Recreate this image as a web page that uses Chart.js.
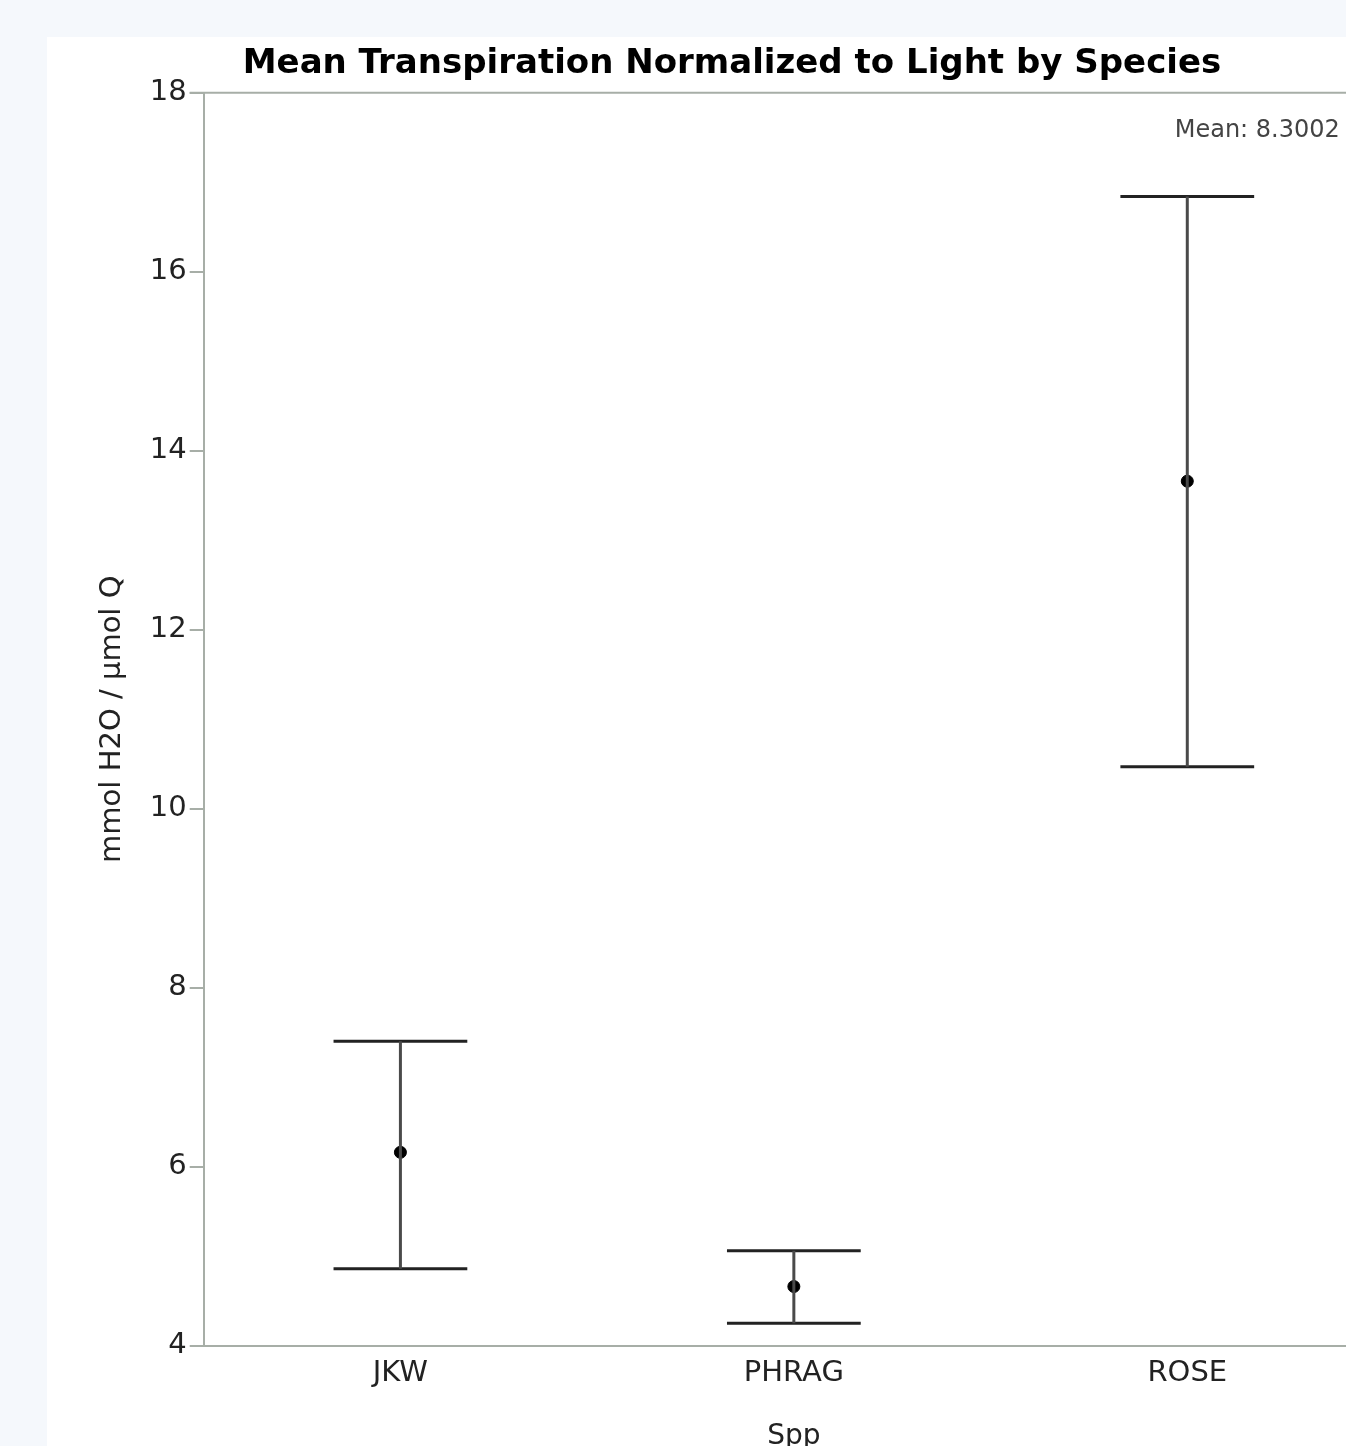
<!DOCTYPE html>
<html>
<head>
<meta charset="utf-8">
<script src="https://cdn.jsdelivr.net/npm/chart.js@4.4.1/dist/chart.umd.min.js"></script>
<style>
html, body { margin: 0; padding: 0; background: #f5f8fc; overflow: hidden; width: 1346px; height: 1446px; }
#wrap { position: absolute; left: 47px; top: 37px; background: #fff; }
</style>
</head>
<body>
<div id="wrap"><canvas id="myChart" width="1370" height="1430"></canvas></div>
<script>
// species on the x axis
var species = ["JKW", "PHRAG", "ROSE"];
// mean and error bar ends (mmol H2O / umol Q)
var meanValues = [6.16, 4.66, 13.66];
var upperValues = [7.40, 5.06, 16.84];
var lowerValues = [4.86, 4.25, 10.47];
var yTicks = [4, 6, 8, 10, 12, 14, 16, 18];
var grandMean = "8.3002";
var capHalf = 0.17;

var fontFam = "'DejaVu Sans', sans-serif";

// whisker stems and caps, segments split by nulls
var stems = [];
var caps = [];
for (var i = 0; i < species.length; i++) {
    stems.push({x: i, y: lowerValues[i]});
    stems.push({x: i, y: upperValues[i]});
    stems.push({x: i, y: null});
    caps.push({x: i - capHalf, y: upperValues[i]});
    caps.push({x: i + capHalf, y: upperValues[i]});
    caps.push({x: i, y: null});
    caps.push({x: i - capHalf, y: lowerValues[i]});
    caps.push({x: i + capHalf, y: lowerValues[i]});
    caps.push({x: i, y: null});
}
var means = species.map(function(s, i) { return {x: i, y: meanValues[i]}; });

// top frame line + mean text
var framePlugin = {
    id: "frame",
    afterDraw: function(chart) {
        var ctx = chart.ctx;
        var a = chart.chartArea;
        ctx.save();
        ctx.strokeStyle = "#a7aea7";
        ctx.lineWidth = 2;
        ctx.beginPath();
        ctx.moveTo(a.left - 14, a.top);
        ctx.lineTo(a.right, a.top);
        ctx.stroke();
        ctx.fillStyle = "#444";
        ctx.font = "24px " + fontFam;
        ctx.textAlign = "left";
        ctx.textBaseline = "middle";
        ctx.fillText("Mean: " + grandMean, a.left + 971, a.top + 38);
        ctx.restore();
    }
};

var ctx = document.getElementById("myChart").getContext("2d");
var myChart = new Chart(ctx, {
    type: "scatter",
    data: {
        datasets: [
            {
                data: stems,
                showLine: true,
                spanGaps: false,
                borderColor: "#4a4a4a",
                borderWidth: 3,
                pointRadius: 0
            },
            {
                data: caps,
                showLine: true,
                spanGaps: false,
                borderColor: "#222",
                borderWidth: 3,
                pointRadius: 0
            },
            {
                data: means,
                backgroundColor: "#000",
                borderColor: "#000",
                pointRadius: 6,
                pointHoverRadius: 6
            }
        ]
    },
    options: {
        responsive: false,
        animation: false,
        layout: { padding: { left: 33, right: 33, top: 0, bottom: 13 } },
        plugins: {
            legend: { display: false },
            tooltip: { enabled: false },
            title: {
                display: true,
                text: "Mean Transpiration Normalized to Light by Species",
                color: "#000",
                font: { family: fontFam, size: 34, weight: "bold" },
                padding: { top: 7, bottom: 8 }
            }
        },
        scales: {
            x: {
                type: "linear",
                min: -0.5,
                max: 2.5,
                afterBuildTicks: function(axis) {
                    axis.ticks = species.map(function(s, i) { return {value: i}; });
                },
                ticks: {
                    color: "#222",
                    font: { family: fontFam, size: 29 },
                    padding: 10,
                    callback: function(v) { return species[v]; }
                },
                grid: { display: true, drawOnChartArea: false, drawTicks: false },
                border: { display: true, color: "#a7aea7", width: 2 },
                title: {
                    display: true,
                    text: "Spp",
                    color: "#222",
                    font: { family: fontFam, size: 28 },
                    padding: { top: 20, bottom: 0 }
                }
            },
            y: {
                min: 4,
                max: 18,
                afterBuildTicks: function(axis) {
                    axis.ticks = yTicks.map(function(v) { return {value: v}; });
                },
                ticks: {
                    color: "#222",
                    font: { family: fontFam, size: 29 },
                    padding: 3
                },
                grid: { display: true, drawOnChartArea: false, drawTicks: true, tickLength: 14, color: "#a7aea7", lineWidth: 2 },
                border: { display: true, color: "#a7aea7", width: 2 },
                title: {
                    display: true,
                    text: "mmol H2O / µmol Q",
                    color: "#222",
                    font: { family: fontFam, size: 29 },
                    padding: { top: 15, bottom: 17 }
                }
            }
        }
    },
    plugins: [framePlugin]
});
</script>
</body>
</html>
